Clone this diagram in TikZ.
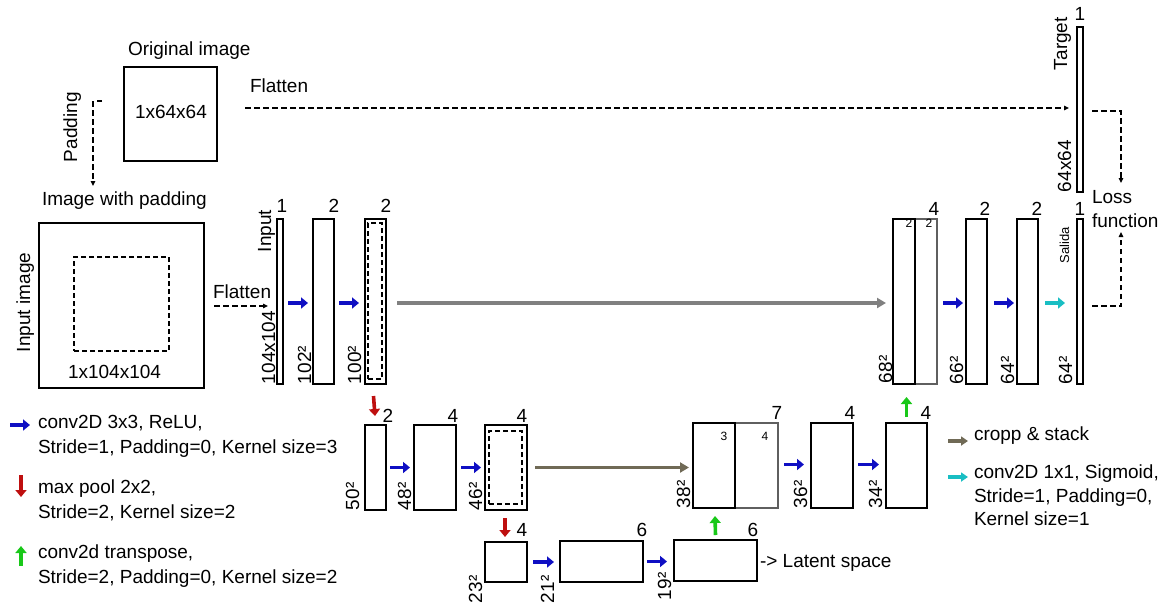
\documentclass[tikz,border=0pt]{standalone}
\usepackage{fontspec}
\setmainfont{Liberation Sans}
\usetikzlibrary{arrows.meta}
\definecolor{cblue}{RGB}{15,15,195}
\definecolor{cred}{RGB}{190,15,15}
\definecolor{cgreen}{RGB}{25,200,25}
\definecolor{cgray}{RGB}{128,128,128}
\definecolor{colive}{RGB}{112,106,86}
\definecolor{ccyan}{RGB}{25,190,195}
\definecolor{cline}{RGB}{95,95,95}
\begin{document}
\begin{tikzpicture}[x=1pt,y=-1pt,
  every node/.style={font=\fontsize{19}{23}\selectfont, inner sep=0pt, outer sep=0pt},
  box/.style={draw=black, line width=1.8pt, anchor=north west},
  bar/.style={draw=black, line width=1.4pt, anchor=north west},
  greybox/.style={draw=cline, line width=1.4pt, anchor=north west},
  dbox/.style={draw=black, line width=1.5pt, dashed, dash pattern=on 5pt off 3pt, anchor=north west},
  lbl/.style={anchor=base},
  txt/.style={anchor=base west},
  rlbl/.style={rotate=90, anchor=base west},
  small/.style={font=\fontsize{12}{14}\selectfont},
  opa/.style={line width=3.6pt, -{Triangle[length=7pt,width=11pt]}},
  bluearr/.style={opa, draw=cblue, fill=cblue},
  redarr/.style={opa, draw=cred, fill=cred},
  greenarr/.style={opa, draw=cgreen, fill=cgreen},
  cyanarr/.style={opa, draw=ccyan, fill=ccyan},
  longarr/.style={line width=3.4pt, -{Triangle[length=9pt,width=10pt]}},
  dconn/.style={draw=black, line width=1.4pt, dash pattern=on 5.5pt off 3.5pt, -{Triangle[length=5pt,width=4.5pt]}}
]
\useasboundingbox (0,0) rectangle (1165,608);

% ---------------- top: original image -----------------
\node[txt] (origT) at (128,55) {Original image};
\node[box, minimum width=93, minimum height=94] (orig) at (124,67) {};
\node[txt] (origD) at (135,118) {1x64x64};
\node[txt] (flatT) at (250,92) {Flatten};
\node[rlbl] (padT) at (77,162) {Padding};
\coordinate (padA) at (102,101);
\coordinate (padB) at (93,186);
\draw[dconn] (padA) -| (padB);

% ---------------- input image -----------------
\node[txt] (imgpadT) at (42,205) {Image with padding};
\node[box, minimum width=165, minimum height=165] (inimg) at (39,223) {};
\node[dbox, minimum width=95, minimum height=94] (inner) at (74,257) {};
\node[txt] (inimgD) at (68,378) {1x104x104};
\node[rlbl] (inimgT) at (30,352) {Input image};
\node[txt] (flat2T) at (213,298) {Flatten};

% ---------------- encoder level 1 -----------------
\node[bar, minimum width=6, minimum height=165] (inbar) at (277,219) {};
\node[lbl] at (282,212) {1};
\node[rlbl] at (271,252) {Input};
\node[rlbl] at (275,384) {104x104};

\node[box, minimum width=21, minimum height=165] (c1) at (313,219) {};
\node[lbl] at (334,212) {2};
\node[rlbl] at (311,384) {102²};

\node[box, minimum width=21, minimum height=165] (c2) at (365,219) {};
\node[dbox, minimum width=14, minimum height=156] (c2in) at (368,223) {};
\node[lbl] at (386,212) {2};
\node[rlbl] at (361,384) {100²};

% ---------------- encoder level 2 -----------------
\node[box, minimum width=21, minimum height=85] (d1) at (365,425) {};
\node[lbl] at (388,422) {2};
\node[rlbl] at (359,510) {50²};

\node[box, minimum width=42, minimum height=85] (d2) at (414,425) {};
\node[lbl] at (453,422) {4};
\node[rlbl] at (411,510) {48²};

\node[box, minimum width=42, minimum height=85] (d3) at (485,425) {};
\node[dbox, minimum width=33, minimum height=73] (d3in) at (489,431) {};
\node[lbl] at (522,422) {4};
\node[rlbl] at (482,510) {46²};

% ---------------- bottleneck -----------------
\node[box, minimum width=42, minimum height=40] (b1) at (485,542) {};
\node[lbl] at (522,536) {4};
\node[rlbl] at (482,603) {23²};

\node[box, minimum width=83, minimum height=41] (b2) at (560,541) {};
\node[lbl] at (642,536) {6};
\node[rlbl] at (554,603) {21²};

\node[box, minimum width=83, minimum height=41] (b3) at (674,540) {};
\node[lbl] at (753,536) {6};
\node[rlbl] at (671,600) {19²};
\node[txt] at (760,567) {-> Latent space};

% ---------------- decoder level 2 -----------------
\node[greybox, minimum width=43, minimum height=85] (u1b) at (735,423) {};
\node[box, minimum width=42, minimum height=85] (u1a) at (693,423) {};
\node[lbl, small] at (724,440) {3};
\node[lbl, small] at (765,440) {4};
\node[lbl] at (777,419) {7};
\node[rlbl] at (690,508) {38²};

\node[box, minimum width=42, minimum height=85] (u2) at (811,423) {};
\node[lbl] at (850,419) {4};
\node[rlbl] at (807,508) {36²};

\node[box, minimum width=41, minimum height=85] (u3) at (886,423) {};
\node[lbl] at (926,419) {4};
\node[rlbl] at (882,508) {34²};

% ---------------- decoder level 1 -----------------
\node[greybox, minimum width=22, minimum height=165] (s1b) at (915,219) {};
\node[box, minimum width=22, minimum height=165] (s1a) at (893,219) {};
\node[lbl, small] at (909,227) {2};
\node[lbl, small] at (929,227) {2};
\node[lbl] at (934,215) {4};
\node[rlbl] at (892,383) {68²};

\node[box, minimum width=21, minimum height=165] (s2) at (966,219) {};
\node[lbl] at (985,215) {2};
\node[rlbl] at (963,384) {66²};

\node[box, minimum width=21, minimum height=165] (s3) at (1017,219) {};
\node[lbl] at (1037,215) {2};
\node[rlbl] at (1014,384) {64²};

\node[bar, minimum width=6, minimum height=165] (outb) at (1077,219) {};
\node[lbl] at (1080,215) {1};
\node[rlbl, font=\fontsize{13}{15}\selectfont] at (1069,263) {Salida};
\node[rlbl] at (1072,384) {64²};

% ---------------- target -----------------
\node[bar, minimum width=6, minimum height=165] (tgt) at (1077,27) {};
\node[lbl] at (1080,20) {1};
\node[rlbl] at (1067,70) {Target};
\node[rlbl] at (1071,192) {64x64};
\node[txt] (lossA) at (1092,203) {Loss};
\node[txt] (lossB) at (1092,227) {function};
\coordinate (lossTop) at (1121,183);
\coordinate (lossBot) at (1121,232);

% ---------------- connectors -----------------
\coordinate (fA) at ([xshift=28,yshift=6]orig.east);
\coordinate (fB) at ([xshift=-8]tgt.west);
\draw[dconn] (fA) -- (fA -| fB);
\coordinate (gA) at ([xshift=10,yshift=-0.5]inimg.east);
\coordinate (gB) at ([xshift=-9]inbar.west);
\draw[dconn] (gA) -- (gA -| gB);
\draw[dconn] ([xshift=9,yshift=-1.5]tgt.east) -| (lossTop);
\draw[dconn] ([xshift=9,yshift=-4.5]outb.east) -| (lossBot);

\draw[bluearr] ([xshift=5,yshift=-1.5]inbar.east) -- ([xshift=-5,yshift=-1.5]c1.west);
\draw[bluearr] ([xshift=5,yshift=-1.5]c1.east) -- ([xshift=-6,yshift=-1.5]c2.west);
\draw[longarr, draw=cgray, fill=cgray] ([xshift=11,yshift=-1.5]c2.east) -- ([xshift=-7,yshift=-1.5]s1a.west);
\draw[redarr] ([xshift=-2,yshift=-12]c2.south) -- ([xshift=-0.5,yshift=9]d1.north);
\draw[bluearr] ([xshift=4]d1.east) -- ([xshift=-4]d2.west);
\draw[bluearr] ([xshift=5]d2.east) -- ([xshift=-4]d3.west);
\draw[longarr, draw=colive, fill=colive] ([xshift=8]d3.east) -- ([xshift=-4]u1a.west |- d3.east);
\draw[redarr] ([xshift=-1,yshift=-8]d3.south) -- ([xshift=-1,yshift=5]b1.north);
\draw[bluearr] ([xshift=6]b1.east) -- ([xshift=-6]b2.west |- b1.east);
\draw[bluearr] ([xshift=4]b2.east) -- ([xshift=-7]b3.west |- b2.east);
\draw[greenarr] ([yshift=5]b3.north) -- ([xshift=1,yshift=-8]u1a.south);
\draw[bluearr] ([xshift=6,yshift=1]u1b.east) -- ([xshift=-7,yshift=1]u2.west);
\draw[bluearr] ([xshift=5,yshift=1]u2.east) -- ([xshift=-7,yshift=1]u3.west);
\draw[greenarr] ([yshift=6]u3.north) -- ++(0,-20);
\draw[bluearr] ([xshift=6,yshift=-1.5]s1b.east) -- ([xshift=-3,yshift=-1.5]s2.west);
\draw[bluearr] ([xshift=7,yshift=-1.5]s2.east) -- ([xshift=-3,yshift=-1.5]s3.west);
\draw[cyanarr] ([xshift=7,yshift=-1.5]s3.east) -- ([xshift=-12,yshift=-1.5]outb.west);

% ---------------- legend left -----------------
\coordinate (lg1) at (10,425);
\draw[bluearr] (lg1) -- ++(20,0);
\node[txt] at (38,428) {conv2D 3x3, ReLU,};
\node[txt] at (38,453) {Stride=1, Padding=0, Kernel size=3};
\coordinate (lg2) at (21,475);
\draw[redarr] (lg2) -- ++(0,22);
\node[txt] at (38,493) {max pool 2x2,};
\node[txt] at (38,518) {Stride=2, Kernel size=2};
\coordinate (lg3) at (21,566);
\draw[greenarr] (lg3) -- ++(0,-20);
\node[txt] at (38,558) {conv2d transpose,};
\node[txt] at (38,583) {Stride=2, Padding=0, Kernel size=2};

% ---------------- legend right -----------------
\coordinate (lg4) at (948,441);
\draw[longarr, line width=3.4pt, -{Triangle[length=7pt,width=9pt]}, draw=colive, fill=colive] (lg4) -- ++(20,0);
\node[txt] at (974,440) {cropp \& stack};
\coordinate (lg5) at (948,477);
\draw[cyanarr, -{Triangle[length=7pt,width=9pt]}] (lg5) -- ++(20,0);
\node[txt] at (974,478) {conv2D 1x1, Sigmoid,};
\node[txt] at (974,502) {Stride=1, Padding=0,};
\node[txt] at (974,525) {Kernel size=1};
\end{tikzpicture}
\end{document}
